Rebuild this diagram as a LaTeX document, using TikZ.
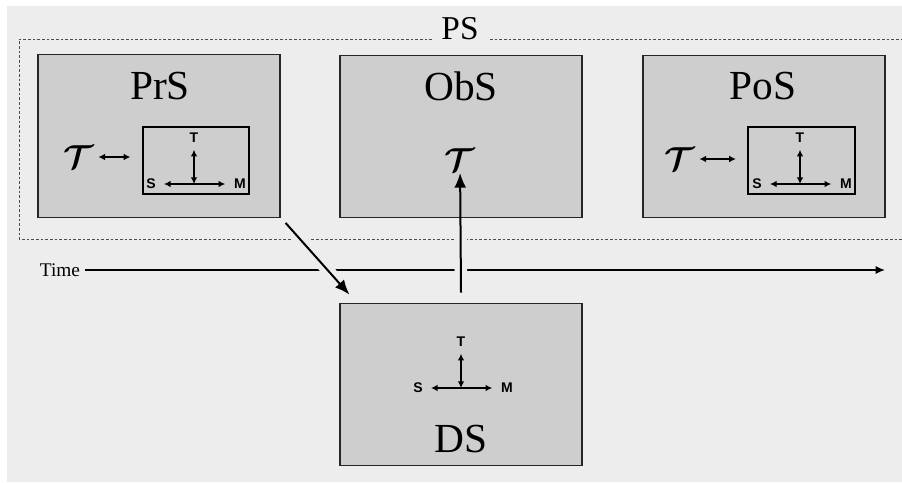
\documentclass[tikz,border=0pt]{standalone}
\usepackage{fontspec}
\setmainfont{Liberation Serif}
\newfontfamily\axisfont{Liberation Sans}
\usetikzlibrary{arrows.meta,calc,backgrounds}
\definecolor{pagegray}{HTML}{EDEDED}
\definecolor{boxgray}{HTML}{CECECE}

\begin{document}
\begin{tikzpicture}[x=0.75pt, y=-0.75pt]
        \tikzset{
        st box/.style={rectangle,draw=black!85,line width=0.9pt,fill=boxgray,minimum width=181.5pt,minimum height=122pt,inner sep=0},
        st title/.style={font=\fontsize{31}{34}\selectfont,inner sep=0},
        axis box/.style={rectangle,draw=black,line width=1.4pt,minimum width=80pt,minimum height=50pt,inner sep=0},
        axis label/.style={font=\axisfont\bfseries\fontsize{10.5}{11}\selectfont,inner sep=1pt},
        axis arrow/.style={{Latex[length=5pt,width=5pt]}-{Latex[length=5pt,width=5pt]},line width=1.1pt},
        tau node/.style={font=\fontsize{24}{26}\selectfont\boldmath,inner sep=1pt},
        flow arrow/.style={-{Latex[length=11pt,width=9pt]},line width=1.5pt},
        time arrow/.style={-{Latex[length=7pt,width=6pt]},line width=1.1pt},
        ps frame/.style={draw=black!70,line width=0.6pt,dash pattern=on 2pt off 1.5pt},
        halo/.style={draw=pagegray,line width=9.5pt}
        }
        \useasboundingbox (0,0) rectangle (902,482);

        % states
        \node[st box] (prs) at (159,136) {};
        \node[st box] (obs) at (461,136.5) {};
        \node[st box] (pos) at (764,136.5) {};
        \node[st box] (ds) at (461,384.5) {};
        \node[st title] at (160,86) {PrS};
        \node[st title] at (461,86) {ObS};
        \node[st title] at (763,86) {PoS};
        \node[st title] at (461,439) {DS};

        \node[axis box] (prsin) at (196,160.5) {};
        \node[axis box] (posin) at (801.5,160.5) {};
        \node[tau node] (prstau) at (79,157) {$\mathcal{T}$};
        \node[tau node] (obstau) at (460,160) {$\mathcal{T}$};
        \node[tau node] (postau) at (680,159) {$\mathcal{T}$};
        \draw[axis arrow,shorten <=2pt,shorten >=8.5pt] (prstau) -- (prstau -| prsin.west);
        \draw[axis arrow,shorten <=2pt,shorten >=8.5pt] (postau) -- (postau -| posin.west);

        % S-M-T axes
        \foreach \ox/\oy/\nm in {194/184/prs, 800/184/pos, 461/388/ds} {
          \coordinate (\nm o) at (\ox,\oy);
          \node[axis label] (\nm T) at (\ox,\oy-46) {T};
          \node[axis label] (\nm S) at (\ox-43,\oy) {S};
          \node[axis label] (\nm M) at (\ox+46,\oy) {M};
          \draw[axis arrow,shorten <=5pt,shorten >=5.5pt] (\nm S) -- (\nm M);
          \draw[axis arrow,shorten >=4pt] (\nm o) -- (\nm T);
        }

        \coordinate (dstart) at ($(prs.south east)+(5,5)$);
        \coordinate (dend) at ($(ds.north west)+(10,-8)$);
        \coordinate (dsup) at ($(ds.north)+(0,-10)$);

        \begin{scope}[on background layer]
        \fill[pagegray] (7,6) rectangle (902,482);
        \node[font=\fontsize{25}{28}\selectfont,inner sep=0] (ps) at (460,29) {PS};
        \draw[ps frame] (432,39) -- (19,39) -- (19,239) -- (910,239);
        \draw[ps frame] (490,39) -- (910,39);
        \node[font=\fontsize{14.5}{16}\selectfont] (time) at (60,270) {Time};
        \coordinate (timeend) at (885,270);
        \draw[time arrow] (time) -- (timeend);
        \path[halo] (dstart) -- (dend);
        \path[halo] (dsup) -- (obstau);
        \end{scope}

        \path[flow arrow]
        (dstart) edge (dend)
        (dsup) edge (obstau)
        ;
    \end{tikzpicture}
\end{document}
